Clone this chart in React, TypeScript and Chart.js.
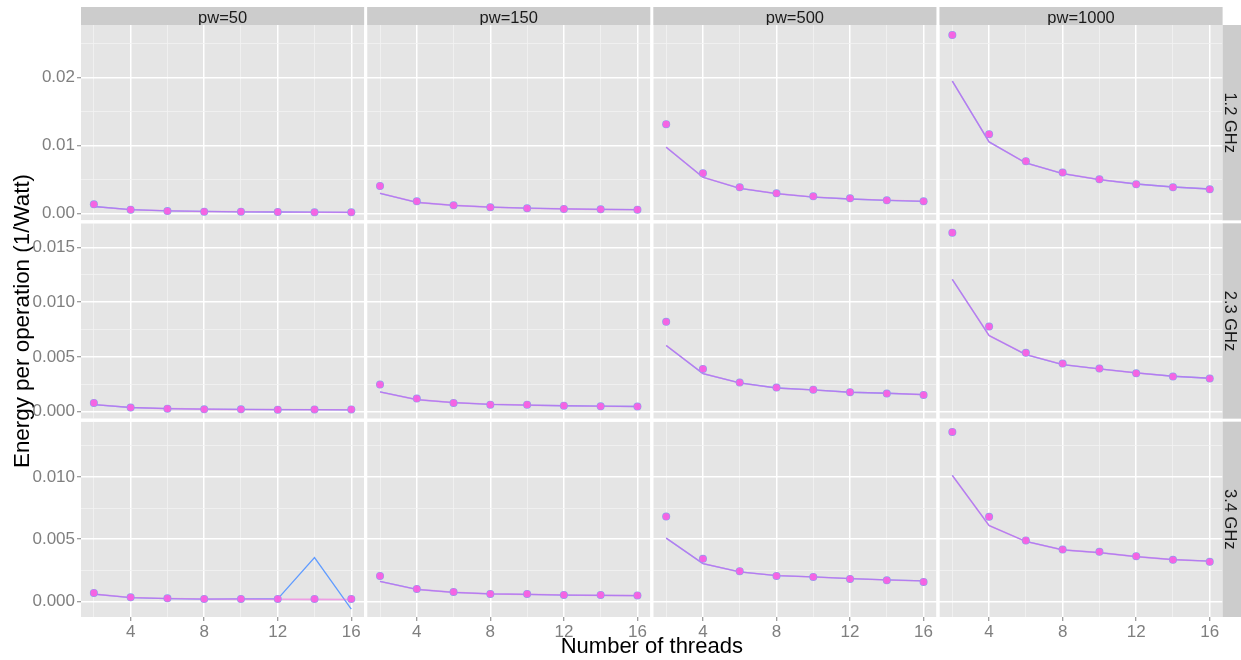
import React, { useEffect, useRef } from 'react';
import { Chart, registerables } from 'chart.js';

Chart.register(...registerables);

const FONT = '"Liberation Sans", Arial, Helvetica, sans-serif';

// ---------- categories ----------
const THREADS = [2, 4, 6, 8, 10, 12, 14, 16];
const PW_LABELS = ['pw=50', 'pw=150', 'pw=500', 'pw=1000'];
const FREQ_LABELS = ['1.2 GHz', '2.3 GHz', '3.4 GHz'];

// ---------- tick labels ----------
const X_TICKS = [2, 4, 6, 8, 10, 12, 14, 16];
const X_TICK_LABELS = ['', '4', '', '8', '', '12', '', '16'];
const Y_TICKS_12 = [0, 0.005, 0.01, 0.015, 0.02, 0.025];
const Y_TICK_LABELS_12 = ['0.00', '', '0.01', '', '0.02', ''];
const Y_TICKS_23 = [0, 0.0025, 0.005, 0.0075, 0.01, 0.0125, 0.015];
const Y_TICK_LABELS_23 = ['0.000', '', '0.005', '', '0.010', '', '0.015'];
const Y_TICKS_34 = [0, 0.0025, 0.005, 0.0075, 0.01, 0.0125];
const Y_TICK_LABELS_34 = ['0.000', '', '0.005', '', '0.010', ''];

// ---------- y ranges per row (free scales) ----------
const Y_RANGE_12 = [-0.00098, 0.02769];
const Y_RANGE_23 = [-0.00064, 0.01719];
const Y_RANGE_34 = [-0.00123, 0.01442];
const X_RANGE = [1.3, 16.7];

// ---------- measured values (points) ----------
const OBS_12_PW50 = [0.00137, 0.00059, 0.00038, 0.00029, 0.00029, 0.00024, 0.00019, 0.00019];
const OBS_12_PW150 = [0.00406, 0.00181, 0.00122, 0.00093, 0.00078, 0.00068, 0.00063, 0.00059];
const OBS_12_PW500 = [0.01313, 0.00593, 0.00387, 0.00299, 0.00254, 0.00225, 0.00196, 0.00181];
const OBS_12_PW1000 = [0.02622, 0.01166, 0.00769, 0.00603, 0.00504, 0.00431, 0.00387, 0.00357];

const OBS_23_PW50 = [0.0008, 0.00037, 0.00027, 0.00021, 0.00021, 0.00018, 0.0002, 0.0002];
const OBS_23_PW150 = [0.00247, 0.00119, 0.0008, 0.00064, 0.00064, 0.00055, 0.00049, 0.00046];
const OBS_23_PW500 = [0.0082, 0.0039, 0.00265, 0.0022, 0.00201, 0.00177, 0.00165, 0.00153];
const OBS_23_PW1000 = [0.01634, 0.00777, 0.00537, 0.00439, 0.00393, 0.0035, 0.0032, 0.00302];

const OBS_34_PW50 = [0.0007, 0.00035, 0.00027, 0.00022, 0.00022, 0.00022, 0.00022, 0.00022];
const OBS_34_PW150 = [0.00206, 0.00102, 0.00078, 0.00062, 0.00062, 0.00054, 0.00054, 0.0005];
const OBS_34_PW500 = [0.00682, 0.00343, 0.00244, 0.00206, 0.00198, 0.00182, 0.00171, 0.00158];
const OBS_34_PW1000 = [0.0136, 0.0068, 0.0049, 0.00417, 0.00399, 0.00364, 0.00335, 0.00319];

// ---------- fitted values (lines) ----------
const FIT_12_PW50 = [0.00105, 0.00058, 0.00042, 0.00032, 0.00027, 0.00024, 0.00021, 0.00019];
const FIT_12_PW150 = [0.00299, 0.00166, 0.00121, 0.00096, 0.0008, 0.0007, 0.00063, 0.00058];
const FIT_12_PW500 = [0.00975, 0.00534, 0.00372, 0.00294, 0.00244, 0.00215, 0.00196, 0.00181];
const FIT_12_PW1000 = [0.01946, 0.01053, 0.00744, 0.00588, 0.005, 0.00435, 0.00391, 0.00362];

const FIT_23_PW50 = [0.00065, 0.00038, 0.00028, 0.00023, 0.0002, 0.00019, 0.00018, 0.00017];
const FIT_23_PW150 = [0.0018, 0.0011, 0.00082, 0.00067, 0.0006, 0.00054, 0.0005, 0.00047];
const FIT_23_PW500 = [0.00604, 0.00348, 0.00262, 0.00216, 0.00198, 0.00177, 0.00168, 0.00155];
const FIT_23_PW1000 = [0.01207, 0.00695, 0.00521, 0.0043, 0.0039, 0.00354, 0.00323, 0.00305];

const FIT_34_PW50 = [0.0006, 0.00033, 0.00025, 0.00021, 0.0002, 0.00019, 0.00018, 0.00017];
const FIT_34_PW150 = [0.00162, 0.00098, 0.00074, 0.00062, 0.00058, 0.00053, 0.0005, 0.00048];
const FIT_34_PW500 = [0.00509, 0.00305, 0.00238, 0.00209, 0.00198, 0.00185, 0.00174, 0.00166];
const FIT_34_PW1000 = [0.01011, 0.0061, 0.00482, 0.00415, 0.00393, 0.00361, 0.00337, 0.00324];

// blue series line that deviates at pw=50, 3.4 GHz
const BLUE_FIT_34_PW50 = [0.0006, 0.00033, 0.00025, 0.00021, 0.00022, 0.00022, 0.00353, -0.00059];

const OBS = [
  [OBS_12_PW50, OBS_12_PW150, OBS_12_PW500, OBS_12_PW1000],
  [OBS_23_PW50, OBS_23_PW150, OBS_23_PW500, OBS_23_PW1000],
  [OBS_34_PW50, OBS_34_PW150, OBS_34_PW500, OBS_34_PW1000],
];
const FIT = [
  [FIT_12_PW50, FIT_12_PW150, FIT_12_PW500, FIT_12_PW1000],
  [FIT_23_PW50, FIT_23_PW150, FIT_23_PW500, FIT_23_PW1000],
  [FIT_34_PW50, FIT_34_PW150, FIT_34_PW500, FIT_34_PW1000],
];
const BLUE_FIT = [
  FIT[0],
  FIT[1],
  [BLUE_FIT_34_PW50, FIT_34_PW150, FIT_34_PW500, FIT_34_PW1000],
];
const Y_TICKS = [Y_TICKS_12, Y_TICKS_23, Y_TICKS_34];
const Y_TICK_LABELS = [Y_TICK_LABELS_12, Y_TICK_LABELS_23, Y_TICK_LABELS_34];
const Y_RANGES = [Y_RANGE_12, Y_RANGE_23, Y_RANGE_34];

// ---------- layout constants ----------
const W = 1241;
const H = 660;
const COL_W = 283;
const ROW_H = 195;
const GAP = 3;
const STRIP_TOP = 7;
const Y_AXIS_W = 52;
const X_AXIS_H = 24;

const MAGENTA = '#F564E3';
const BLUE = '#619CFF';
const TICK_GREY = '#7F7F7F';

const gridColor = (labels: string[]) => (ctx: any) =>
  labels[ctx.index] ? '#FFFFFF' : '#F2F2F2';
const gridWidth = (labels: string[]) => (ctx: any) => (labels[ctx.index] ? 1.5 : 0.8);
const tickColor = (labels: string[]) => (ctx: any) =>
  labels[ctx.index] ? TICK_GREY : 'rgba(0,0,0,0)';

const facetPlugin = {
  id: 'facetPlugin',
  beforeDraw(chart: any) {
    const ctx = chart.ctx;
    ctx.save();
    ctx.fillStyle = '#FFFFFF';
    ctx.fillRect(0, 0, chart.width, chart.height);
    ctx.fillStyle = '#E5E5E5';
    for (let r = 0; r < FREQ_LABELS.length; r++) {
      for (let c = 0; c < PW_LABELS.length; c++) {
        const xs = chart.scales['x' + c];
        const ys = chart.scales['y' + r];
        ctx.fillRect(xs.left, ys.top, xs.right - xs.left, ys.bottom - ys.top);
      }
    }
    ctx.restore();
  },
  beforeDatasetsDraw(chart: any) {
    const ctx = chart.ctx;
    const area = chart.chartArea;
    ctx.save();
    ctx.fillStyle = '#FFFFFF';
    for (let c = 0; c < PW_LABELS.length - 1; c++) {
      const s = chart.scales['xg' + c];
      ctx.fillRect(s.left, area.top, s.right - s.left, area.bottom - area.top);
    }
    for (let r = 0; r < FREQ_LABELS.length - 1; r++) {
      const s = chart.scales['yg' + r];
      ctx.fillRect(area.left, s.top, area.right - area.left, s.bottom - s.top);
    }
    ctx.restore();
  },
  afterDraw(chart: any) {
    const ctx = chart.ctx;
    const area = chart.chartArea;
    ctx.save();
    ctx.font = `16.5px ${FONT}`;
    // top strips
    for (let c = 0; c < PW_LABELS.length; c++) {
      const xs = chart.scales['x' + c];
      ctx.save();
      ctx.fillStyle = '#CCCCCC';
      ctx.fillRect(xs.left, STRIP_TOP, xs.right - xs.left, area.top - STRIP_TOP);
      ctx.beginPath();
      ctx.rect(xs.left, STRIP_TOP, xs.right - xs.left, area.top - STRIP_TOP);
      ctx.clip();
      ctx.fillStyle = '#1A1A1A';
      ctx.textAlign = 'center';
      ctx.textBaseline = 'alphabetic';
      ctx.fillText(PW_LABELS[c], (xs.left + xs.right) / 2, area.top - 1.8);
      ctx.restore();
    }
    // right strips
    for (let r = 0; r < FREQ_LABELS.length; r++) {
      const ys = chart.scales['y' + r];
      ctx.save();
      ctx.fillStyle = '#CCCCCC';
      ctx.fillRect(area.right, ys.top, W - area.right, ys.bottom - ys.top);
      ctx.beginPath();
      ctx.rect(area.right, ys.top, W - area.right, ys.bottom - ys.top);
      ctx.clip();
      ctx.translate(area.right + 2.4, (ys.top + ys.bottom) / 2);
      ctx.rotate(Math.PI / 2);
      ctx.fillStyle = '#1A1A1A';
      ctx.textAlign = 'center';
      ctx.textBaseline = 'alphabetic';
      ctx.fillText(FREQ_LABELS[r], 0, 0);
      ctx.restore();
    }
    ctx.restore();
  },
};

function buildScales() {
  const scales: any = {};
  for (let c = 0; c < PW_LABELS.length; c++) {
    scales['x' + c] = {
      type: 'linear',
      axis: 'x',
      position: 'bottom',
      stack: 'cols',
      stackWeight: COL_W,
      weight: 2 * c + 1,
      min: X_RANGE[0],
      max: X_RANGE[1],
      afterBuildTicks: (s: any) => {
        s.ticks = X_TICKS.map((v) => ({ value: v }));
      },
      afterFit: (s: any) => {
        s.height = X_AXIS_H;
      },
      border: { display: false },
      grid: {
        color: gridColor(X_TICK_LABELS),
        lineWidth: gridWidth(X_TICK_LABELS),
        tickColor: tickColor(X_TICK_LABELS),
        tickWidth: 1,
        tickLength: 4,
        drawTicks: true,
      },
      ticks: {
        autoSkip: false,
        maxRotation: 0,
        padding: 1,
        color: TICK_GREY,
        font: { family: FONT, size: 17 },
        callback: (_v: any, i: number) => X_TICK_LABELS[i],
      },
    };
    if (c < PW_LABELS.length - 1) {
      scales['xg' + c] = {
        type: 'linear',
        axis: 'x',
        position: 'bottom',
        stack: 'cols',
        stackWeight: GAP,
        weight: 2 * c + 2,
        display: false,
      };
    }
  }
  for (let r = 0; r < FREQ_LABELS.length; r++) {
    const labels = Y_TICK_LABELS[r];
    const ticks = Y_TICKS[r];
    scales['y' + r] = {
      type: 'linear',
      axis: 'y',
      position: 'left',
      stack: 'rows',
      stackWeight: ROW_H,
      weight: 10 - 2 * r,
      min: Y_RANGES[r][0],
      max: Y_RANGES[r][1],
      afterBuildTicks: (s: any) => {
        s.ticks = ticks.map((v) => ({ value: v }));
      },
      afterFit: (s: any) => {
        s.width = Y_AXIS_W;
      },
      border: { display: false },
      grid: {
        color: gridColor(labels),
        lineWidth: gridWidth(labels),
        tickColor: tickColor(labels),
        tickWidth: 1,
        tickLength: 4,
        drawTicks: true,
      },
      ticks: {
        autoSkip: false,
        padding: 2,
        color: TICK_GREY,
        font: { family: FONT, size: 17 },
        callback: (_v: any, i: number) => labels[i],
      },
    };
    if (r < FREQ_LABELS.length - 1) {
      scales['yg' + r] = {
        type: 'linear',
        axis: 'y',
        position: 'left',
        stack: 'rows',
        stackWeight: GAP,
        weight: 9 - 2 * r,
        display: false,
      };
    }
  }
  return scales;
}

function buildDatasets() {
  const toPts = (arr: number[]) => THREADS.map((t, i) => ({ x: t, y: arr[i] }));
  const datasets: any[] = [];
  for (let r = 0; r < FREQ_LABELS.length; r++) {
    for (let c = 0; c < PW_LABELS.length; c++) {
      const ids = { xAxisID: 'x' + c, yAxisID: 'y' + r };
      datasets.push({
        ...ids,
        label: `obs magenta ${r}-${c}`,
        data: toPts(OBS[r][c]),
        showLine: false,
        pointRadius: 3.4,
        pointBorderWidth: 0,
        pointBackgroundColor: MAGENTA,
        order: 0,
      });
      datasets.push({
        ...ids,
        label: `obs blue ${r}-${c}`,
        data: toPts(OBS[r][c]),
        showLine: false,
        pointRadius: 4,
        pointBorderWidth: 0,
        pointBackgroundColor: '#8E9EEE',
        order: 1,
      });
      datasets.push({
        ...ids,
        label: `fit magenta ${r}-${c}`,
        data: toPts(FIT[r][c]),
        borderColor: 'rgba(245,100,227,0.55)',
        borderWidth: 1.6,
        pointRadius: 0,
        fill: false,
        order: 2,
      });
      datasets.push({
        ...ids,
        label: `fit blue ${r}-${c}`,
        data: toPts(BLUE_FIT[r][c]),
        borderColor: BLUE,
        borderWidth: 1.3,
        pointRadius: 0,
        fill: false,
        order: 3,
      });
    }
  }
  return datasets;
}

export default function App() {
  const canvasRef = useRef<HTMLCanvasElement | null>(null);

  useEffect(() => {
    const canvas = canvasRef.current;
    if (!canvas) return;
    const chart = new Chart(canvas, {
      type: 'line',
      data: { datasets: buildDatasets() },
      options: {
        responsive: false,
        animation: false,
        devicePixelRatio: 1,
        events: [],
        layout: { padding: { top: 25, right: 18.4, bottom: 0, left: 0 } },
        scales: buildScales(),
        plugins: {
          legend: { display: false },
          tooltip: { enabled: false },
          title: {
            display: true,
            position: 'left',
            fullSize: false,
            text: 'Energy per operation (1/Watt)',
            color: '#000000',
            font: { family: FONT, size: 22.4, weight: 'normal', lineHeight: '10px' },
            padding: { top: 17.5, bottom: 1.5 },
          },
          subtitle: {
            display: true,
            position: 'bottom',
            fullSize: false,
            text: 'Number of threads',
            color: '#000000',
            font: { family: FONT, size: 22, weight: 'normal', lineHeight: '12px' },
            padding: { top: 0, bottom: 7 },
          },
        },
      } as any,
      plugins: [facetPlugin],
    });
    return () => chart.destroy();
  }, []);

  return (
    <div style={{ position: 'fixed', left: 0, top: 0, width: W, height: H, background: '#FFFFFF' }}>
      <canvas ref={canvasRef} width={W} height={H} style={{ display: 'block', width: W, height: H }} />
    </div>
  );
}
